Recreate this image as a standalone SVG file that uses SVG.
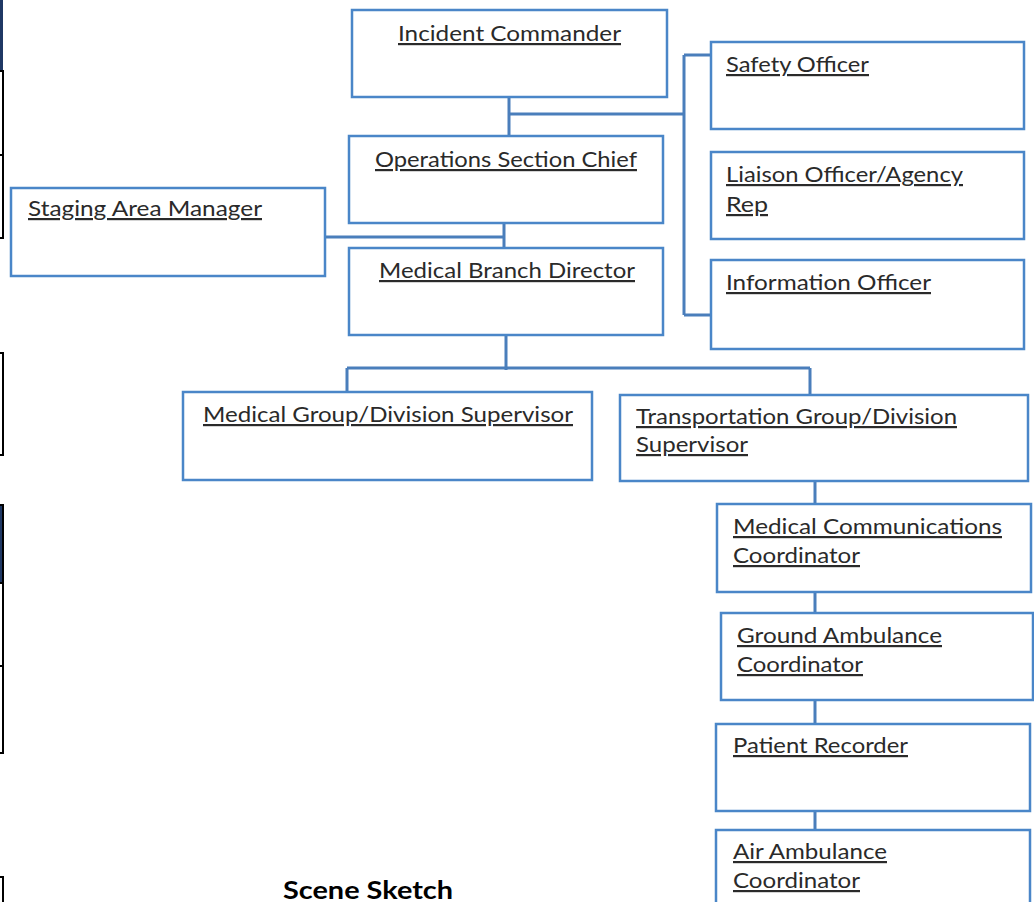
<svg xmlns="http://www.w3.org/2000/svg" width="1034" height="902" viewBox="0 0 1034 902">
<style>
.box{fill:#ffffff;stroke:#4a86c8;stroke-width:2.5}
.con{fill:none;stroke:#4a7ebb;stroke-width:3}
.t{font-family:Lato,"Open Sans","Liberation Sans",sans-serif;font-size:22px;fill:#2a2a2a;text-decoration:underline}
.tbl{fill:none;stroke:#000;stroke-width:2}
.h{font-family:Lato,"Open Sans","Liberation Sans",sans-serif;font-size:24px;font-weight:bold;fill:#000}
</style>
<rect width="1034" height="902" fill="#ffffff"/>
<g id="page-edge">
<rect x="0" y="0" width="3" height="71" fill="#1f3864"/>
<path class="tbl" d="M0 71H3V238H0M0 155H3"/>
<path class="tbl" d="M0 353H3V455H0"/>
<rect x="0" y="505" width="3" height="78" fill="#1f3864"/>
<path class="tbl" d="M0 505H3V753H0M0 583H3M0 666H3"/>
<path class="tbl" d="M0 877H3V902"/>
</g>
<g id="connectors">
<path class="con" d="M509 97V136M509 114H684M684 55V315M684 55H711M684 315H713"/>
<path class="con" d="M504 223V248M323 237H504"/>
<path class="con" d="M506 335V370M347 368H810M347 368V392M810 368V395"/>
<path class="con" d="M815 481V504M815 592V613M815 700V724M815 811V830"/>
</g>
<g id="incident-commander"><rect class="box" x="352" y="10" width="315" height="87"/><text class="t" x="398" y="41" textLength="223" lengthAdjust="spacingAndGlyphs">Incident Commander</text></g>
<g id="operations-section-chief"><rect class="box" x="349" y="136" width="314" height="87"/><text class="t" x="375" y="167" textLength="262" lengthAdjust="spacingAndGlyphs">Operations Section Chief</text></g>
<g id="medical-branch-director"><rect class="box" x="349" y="248" width="314" height="87"/><text class="t" x="379" y="278" textLength="256" lengthAdjust="spacingAndGlyphs">Medical Branch Director</text></g>
<g id="staging-area-manager"><rect class="box" x="11" y="188" width="314" height="88"/><text class="t" x="28" y="216" textLength="234" lengthAdjust="spacingAndGlyphs">Staging Area Manager</text></g>
<g id="safety-officer"><rect class="box" x="711" y="42" width="313" height="87"/><text class="t" x="726" y="72" textLength="143" lengthAdjust="spacingAndGlyphs">Safety Officer</text></g>
<g id="liaison-officer"><rect class="box" x="711" y="152" width="313" height="87"/><text class="t" x="726" y="182" textLength="237" lengthAdjust="spacingAndGlyphs">Liaison Officer/Agency</text><text class="t" x="726" y="212" textLength="42" lengthAdjust="spacingAndGlyphs">Rep</text></g>
<g id="information-officer"><rect class="box" x="711" y="260" width="313" height="89"/><text class="t" x="726" y="290" textLength="205" lengthAdjust="spacingAndGlyphs">Information Officer</text></g>
<g id="medical-group-supervisor"><rect class="box" x="183" y="392" width="409" height="88"/><text class="t" x="203" y="422" textLength="370" lengthAdjust="spacingAndGlyphs">Medical Group/Division Supervisor</text></g>
<g id="transportation-group-supervisor"><rect class="box" x="620" y="395" width="408" height="86"/><text class="t" x="636" y="424" textLength="321" lengthAdjust="spacingAndGlyphs">Transportation Group/Division</text><text class="t" x="636" y="452" textLength="112" lengthAdjust="spacingAndGlyphs">Supervisor</text></g>
<g id="medical-communications-coordinator"><rect class="box" x="717" y="504" width="314" height="88"/><text class="t" x="733" y="534" textLength="269" lengthAdjust="spacingAndGlyphs">Medical Communications</text><text class="t" x="733" y="563" textLength="127" lengthAdjust="spacingAndGlyphs">Coordinator</text></g>
<g id="ground-ambulance-coordinator"><rect class="box" x="721" y="613" width="312" height="87"/><text class="t" x="737" y="643" textLength="205" lengthAdjust="spacingAndGlyphs">Ground Ambulance</text><text class="t" x="737" y="672" textLength="126" lengthAdjust="spacingAndGlyphs">Coordinator</text></g>
<g id="patient-recorder"><rect class="box" x="716" y="724" width="314" height="87"/><text class="t" x="733" y="753" textLength="175" lengthAdjust="spacingAndGlyphs">Patient Recorder</text></g>
<g id="air-ambulance-coordinator"><rect class="box" x="716" y="830" width="314" height="90"/><text class="t" x="733" y="859" textLength="154" lengthAdjust="spacingAndGlyphs">Air Ambulance</text><text class="t" x="733" y="888" textLength="127" lengthAdjust="spacingAndGlyphs">Coordinator</text></g>
<text class="h" x="283" y="899" textLength="170" lengthAdjust="spacingAndGlyphs">Scene Sketch</text>
</svg>
